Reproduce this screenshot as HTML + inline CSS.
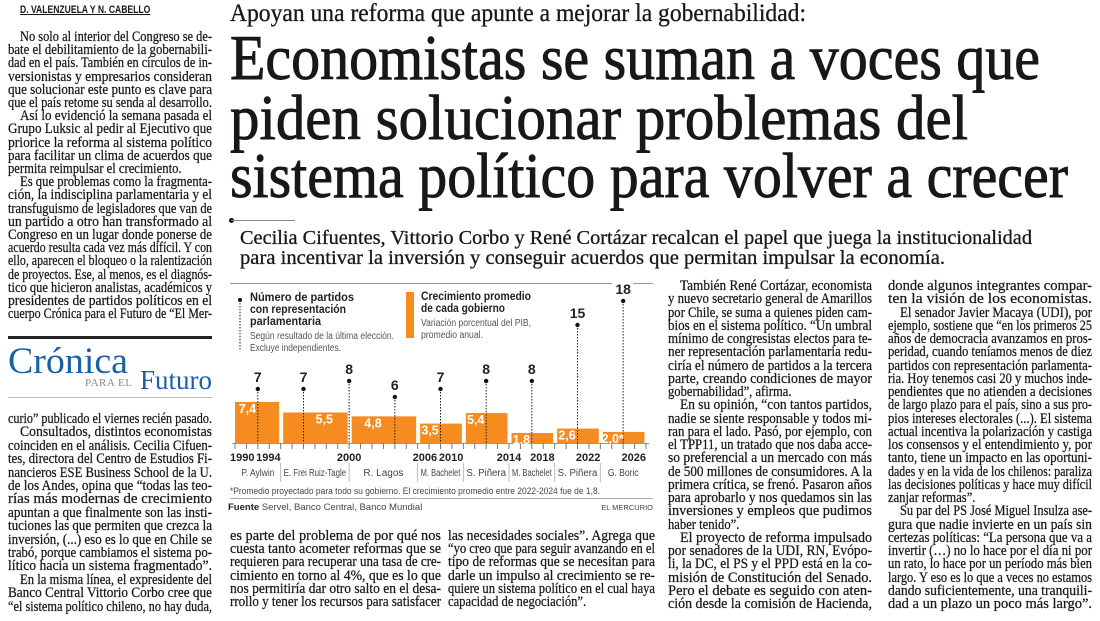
<!DOCTYPE html>
<html><head><meta charset="utf-8">
<style>
body{margin:0;width:1100px;height:621px;background:#fff;position:relative;overflow:hidden;color:#1a1718;font-family:"Liberation Serif",serif}
.abs{position:absolute;white-space:nowrap}
.col{position:absolute}
.ln{position:relative;white-space:nowrap;font-size:15px;overflow:visible;-webkit-text-stroke:0.25px #1a1718}
.ln span{display:inline-block;transform-origin:0 50%}
.ind{padding-left:12px}
.hl{position:absolute;left:230px;white-space:nowrap;font-size:64px;line-height:64px;transform-origin:0 0;-webkit-text-stroke:0.9px #1a1718}
.sans{font-family:"Liberation Sans",sans-serif}
svg text{font-family:"Liberation Sans",sans-serif}
</style></head><body>
<div class="abs sans" style="left:20px;top:4px;font-size:11px;font-weight:bold;text-decoration:underline;transform:scaleX(0.78);transform-origin:0 0">D. VALENZUELA Y N. CABELLO</div>

<div class="hl fit" data-w="576" style="font-size:25px;line-height:25px;top:1px;-webkit-text-stroke:0.3px #1a1718">Apoyan una reforma que apunte a mejorar la gobernabilidad:</div>
<div class="hl fit" data-w="810" style="top:26px">Economistas se suman a voces que</div>
<div class="hl fit" data-w="738" style="top:86px">piden solucionar problemas del</div>
<div class="hl fit" data-w="838" style="top:144px">sistema político para volver a crecer</div>
<div class="abs" style="left:229px;top:218px;width:5px;height:5px;border-radius:50%;background:#111"></div>
<div class="abs" style="left:231px;top:220px;width:64px;height:1px;background:#888"></div>
<div class="hl fit" data-w="792" style="left:240px;font-size:20px;line-height:20px;top:228px;-webkit-text-stroke:0.3px #1a1718">Cecilia Cifuentes, Vittorio Corbo y René Cortázar recalcan el papel que juega la institucionalidad</div>
<div class="hl fit" data-w="705" style="left:240px;font-size:20px;line-height:20px;top:248px;-webkit-text-stroke:0.3px #1a1718">para incentivar la inversión y conseguir acuerdos que permitan impulsar la economía.</div>

<!-- Cronica block -->
<div class="abs" style="left:8px;top:336px;width:204px;height:3px;background:#222"></div>
<div class="abs fit2" style="left:8px;top:343px;font-size:37px;line-height:37px;color:#1b5fa6">Crónica</div>
<div class="abs" style="left:85px;top:378px;font-size:11px;line-height:11px;color:#8a8a8a;letter-spacing:0.5px">PARA EL</div>
<div class="abs" style="left:140px;top:367px;font-size:27px;line-height:27px;color:#1b5fa6">Futuro</div>
<div class="abs" style="left:8px;top:397px;width:204px;height:1px;background:#bbb"></div>

<div class="col" style="left:8px;top:31px;width:204px;line-height:13.2px">
<div class="ln ind"><span>No solo al interior del Congreso se de-</span></div>
<div class="ln"><span>bate el debilitamiento de la gobernabili-</span></div>
<div class="ln"><span>dad en el país. También en círculos de in-</span></div>
<div class="ln"><span>versionistas y empresarios consideran</span></div>
<div class="ln"><span>que solucionar este punto es clave para</span></div>
<div class="ln"><span>que el país retome su senda al desarrollo.</span></div>
<div class="ln ind"><span>Así lo evidenció la semana pasada el</span></div>
<div class="ln"><span>Grupo Luksic al pedir al Ejecutivo que</span></div>
<div class="ln"><span>priorice la reforma al sistema político</span></div>
<div class="ln"><span>para facilitar un clima de acuerdos que</span></div>
<div class="ln last"><span>permita reimpulsar el crecimiento.</span></div>
<div class="ln ind"><span>Es que problemas como la fragmenta-</span></div>
<div class="ln"><span>ción, la indisciplina parlamentaria y el</span></div>
<div class="ln"><span>transfuguismo de legisladores que van de</span></div>
<div class="ln"><span>un partido a otro han transformado al</span></div>
<div class="ln"><span>Congreso en un lugar donde ponerse de</span></div>
<div class="ln"><span>acuerdo resulta cada vez más difícil. Y con</span></div>
<div class="ln"><span>ello, aparecen el bloqueo o la ralentización</span></div>
<div class="ln"><span>de proyectos. Ese, al menos, es el diagnós-</span></div>
<div class="ln"><span>tico que hicieron analistas, académicos y</span></div>
<div class="ln"><span>presidentes de partidos políticos en el</span></div>
<div class="ln"><span>cuerpo Crónica para el Futuro de “El Mer-</span></div>
</div>

<div class="col" style="left:8px;top:413px;width:204px;line-height:13.4px">
<div class="ln"><span>curio” publicado el viernes recién pasado.</span></div>
<div class="ln ind"><span>Consultados, distintos economistas</span></div>
<div class="ln"><span>coinciden en el análisis. Cecilia Cifuen-</span></div>
<div class="ln"><span>tes, directora del Centro de Estudios Fi-</span></div>
<div class="ln"><span>nancieros ESE Business School de la U.</span></div>
<div class="ln"><span>de los Andes, opina que “todas las teo-</span></div>
<div class="ln"><span>rías más modernas de crecimiento</span></div>
<div class="ln"><span>apuntan a que finalmente son las insti-</span></div>
<div class="ln"><span>tuciones las que permiten que crezca la</span></div>
<div class="ln"><span>inversión, (...) eso es lo que en Chile se</span></div>
<div class="ln"><span>trabó, porque cambiamos el sistema po-</span></div>
<div class="ln"><span>lítico hacia un sistema fragmentado”.</span></div>
<div class="ln ind"><span>En la misma línea, el expresidente del</span></div>
<div class="ln"><span>Banco Central Vittorio Corbo cree que</span></div>
<div class="ln"><span>“el sistema político chileno, no hay duda,</span></div>
</div>

<div class="col" style="left:230px;top:530px;width:211px;line-height:13.2px">
<div class="ln"><span>es parte del problema de por qué nos</span></div>
<div class="ln"><span>cuesta tanto acometer reformas que se</span></div>
<div class="ln"><span>requieren para recuperar una tasa de cre-</span></div>
<div class="ln"><span>cimiento en torno al 4%, que es lo que</span></div>
<div class="ln"><span>nos permitiría dar otro salto en el desa-</span></div>
<div class="ln"><span>rrollo y tener los recursos para satisfacer</span></div>
</div>
<div class="col" style="left:448px;top:530px;width:207px;line-height:13.2px">
<div class="ln"><span>las necesidades sociales”. Agrega que</span></div>
<div class="ln"><span>“yo creo que para seguir avanzando en el</span></div>
<div class="ln"><span>tipo de reformas que se necesitan para</span></div>
<div class="ln"><span>darle un impulso al crecimiento se re-</span></div>
<div class="ln"><span>quiere un sistema político en el cual haya</span></div>
<div class="ln last"><span>capacidad de negociación”.</span></div>
</div>

<div class="col" style="left:668px;top:280px;width:204px;line-height:13.25px">
<div class="ln ind"><span>También René Cortázar, economista</span></div>
<div class="ln"><span>y nuevo secretario general de Amarillos</span></div>
<div class="ln"><span>por Chile, se suma a quienes piden cam-</span></div>
<div class="ln"><span>bios en el sistema político. “Un umbral</span></div>
<div class="ln"><span>mínimo de congresistas electos para te-</span></div>
<div class="ln"><span>ner representación parlamentaria redu-</span></div>
<div class="ln"><span>ciría el número de partidos a la tercera</span></div>
<div class="ln"><span>parte, creando condiciones de mayor</span></div>
<div class="ln last"><span>gobernabilidad”, afirma.</span></div>
<div class="ln ind"><span>En su opinión, “con tantos partidos,</span></div>
<div class="ln"><span>nadie se siente responsable y todos mi-</span></div>
<div class="ln"><span>ran para el lado. Pasó, por ejemplo, con</span></div>
<div class="ln"><span>el TPP11, un tratado que nos daba acce-</span></div>
<div class="ln"><span>so preferencial a un mercado con más</span></div>
<div class="ln"><span>de 500 millones de consumidores. A la</span></div>
<div class="ln"><span>primera crítica, se frenó. Pasaron años</span></div>
<div class="ln"><span>para aprobarlo y nos quedamos sin las</span></div>
<div class="ln"><span>inversiones y empleos que pudimos</span></div>
<div class="ln last"><span>haber tenido”.</span></div>
<div class="ln ind"><span>El proyecto de reforma impulsado</span></div>
<div class="ln"><span>por senadores de la UDI, RN, Evópo-</span></div>
<div class="ln"><span>li, la DC, el PS y el PPD está en la co-</span></div>
<div class="ln"><span>misión de Constitución del Senado.</span></div>
<div class="ln"><span>Pero el debate es seguido con aten-</span></div>
<div class="ln"><span>ción desde la comisión de Hacienda,</span></div>
</div>

<div class="col" style="left:888px;top:280px;width:204px;line-height:13.25px">
<div class="ln"><span>donde algunos integrantes compar-</span></div>
<div class="ln"><span>ten la visión de los economistas.</span></div>
<div class="ln ind"><span>El senador Javier Macaya (UDI), por</span></div>
<div class="ln"><span>ejemplo, sostiene que “en los primeros 25</span></div>
<div class="ln"><span>años de democracia avanzamos en pros-</span></div>
<div class="ln"><span>peridad, cuando teníamos menos de diez</span></div>
<div class="ln"><span>partidos con representación parlamenta-</span></div>
<div class="ln"><span>ria. Hoy tenemos casi 20 y muchos inde-</span></div>
<div class="ln"><span>pendientes que no atienden a decisiones</span></div>
<div class="ln"><span>de largo plazo para el país, sino a sus pro-</span></div>
<div class="ln"><span>pios intereses electorales (...). El sistema</span></div>
<div class="ln"><span>actual incentiva la polarización y castiga</span></div>
<div class="ln"><span>los consensos y el entendimiento y, por</span></div>
<div class="ln"><span>tanto, tiene un impacto en las oportuni-</span></div>
<div class="ln"><span>dades y en la vida de los chilenos: paraliza</span></div>
<div class="ln"><span>las decisiones políticas y hace muy difícil</span></div>
<div class="ln last"><span>zanjar reformas”.</span></div>
<div class="ln ind"><span>Su par del PS José Miguel Insulza ase-</span></div>
<div class="ln"><span>gura que nadie invierte en un país sin</span></div>
<div class="ln"><span>certezas políticas: “La persona que va a</span></div>
<div class="ln"><span>invertir (…) no lo hace por el día ni por</span></div>
<div class="ln"><span>un rato, lo hace por un período más bien</span></div>
<div class="ln"><span>largo. Y eso es lo que a veces no estamos</span></div>
<div class="ln"><span>dando suficientemente, una tranquili-</span></div>
<div class="ln"><span>dad a un plazo un poco más largo”.</span></div>
</div>

<svg id="chart" width="1100" height="621" style="position:absolute;left:0;top:0" xmlns="http://www.w3.org/2000/svg">
<line x1="230" y1="283.5" x2="612" y2="283.5" stroke="#999" stroke-width="1"/>
<line x1="633" y1="283.5" x2="653" y2="283.5" stroke="#999" stroke-width="1"/>
<g>
<line x1="240" y1="300" x2="240" y2="351" stroke="#222" stroke-width="1" stroke-dasharray="1.5,1.5"/>
<circle cx="240" cy="300" r="2" fill="#111"/>
<text x="250" y="301" font-size="12" font-weight="bold" fill="#222" textLength="104" lengthAdjust="spacingAndGlyphs">Número de partidos</text>
<text x="250" y="313" font-size="12" font-weight="bold" fill="#222" textLength="96" lengthAdjust="spacingAndGlyphs">con representación</text>
<text x="250" y="325" font-size="12" font-weight="bold" fill="#222" textLength="71" lengthAdjust="spacingAndGlyphs">parlamentaria</text>
<text x="250" y="339" font-size="10" fill="#555" textLength="144" lengthAdjust="spacingAndGlyphs">Según resultado de la última elección.</text>
<text x="250" y="351" font-size="10" fill="#555" textLength="91" lengthAdjust="spacingAndGlyphs">Excluye independientes.</text>
</g>
<g>
<rect x="406" y="292" width="8" height="46" fill="#f68b1f"/>
<text x="421" y="300" font-size="12" font-weight="bold" fill="#222" textLength="110" lengthAdjust="spacingAndGlyphs">Crecimiento promedio</text>
<text x="421" y="312" font-size="12" font-weight="bold" fill="#222" textLength="84" lengthAdjust="spacingAndGlyphs">de cada gobierno</text>
<text x="421" y="326" font-size="10" fill="#555" textLength="110" lengthAdjust="spacingAndGlyphs">Variación porcentual del PIB,</text>
<text x="421" y="338" font-size="10" fill="#555" textLength="62" lengthAdjust="spacingAndGlyphs">promedio anual.</text>
</g>
<g id="plot"></g>
<text x="230" y="494" font-size="9.5" fill="#444" textLength="370" lengthAdjust="spacingAndGlyphs">*Promedio proyectado para todo su gobierno. El crecimiento promedio entre 2022-2024 fue de 1,8.</text>
<line x1="230" y1="498.5" x2="653" y2="498.5" stroke="#aaa"/>
<text x="228" y="510" font-size="9.5" fill="#444"><tspan font-weight="bold" fill="#222">Fuente</tspan> Servel, Banco Central, Banco Mundial</text>
<text x="653" y="510" font-size="7.5" fill="#444" text-anchor="end">EL MERCURIO</text>
</svg>

<script>
// ---- chart data ----
const termStart = [1990, 1994, 2000, 2006, 2010, 2014, 2018, 2022];
const termEnd = [1994, 2000, 2006, 2010, 2014, 2018, 2022, 2026];
const presidents = ["P. Aylwin", "E. Frei Ruiz-Tagle", "R. Lagos", "M. Bachelet", "S. Piñera", "M. Bachelet", "S. Piñera", "G. Boric"];
const growth = [7.4, 5.5, 4.8, 3.5, 5.4, 1.8, 2.6, 2.0];
const growthLabels = ["7,4", "5,5", "4,8", "3,5", "5,4", "1,8", "2,6", "2,0*"];
const electionYears = [1992, 1996, 2000, 2004, 2008, 2012, 2016, 2020, 2024];
const parties = [7, 7, 8, 6, 7, 8, 8, 15, 18];
const yearTicks = [1990, 1994, 2000, 2006, 2010, 2014, 2018, 2022, 2026];

const NS = "http://www.w3.org/2000/svg";
const X0 = 235, X1 = 646, Y0 = 1990, Y1 = 2026, BASE = 443;
const xs = y => X0 + (y - Y0) * (X1 - X0) / (Y1 - Y0);
const yg = v => BASE - v * 5.55;
const yp = n => 445 - n * 8;
const plot = document.getElementById("plot");
function mk(tag, attrs, parent) {
  const e = document.createElementNS(NS, tag);
  for (const k in attrs) e.setAttribute(k, attrs[k]);
  (parent || plot).appendChild(e);
  return e;
}
// bars
growth.forEach((v, i) => {
  const a = xs(termStart[i]) + (i ? 2.5 : 0), b = xs(termEnd[i]) - 1.5;
  const r = mk("rect", {x: a, y: yg(v), width: b - a, height: BASE - yg(v), fill: "#f68b1f"});
  
  
});
// year ticks
mk("line", {x1: X0 - 3, y1: BASE + 0.5, x2: X1 + 3, y2: BASE + 0.5, stroke: "#999"});
for (let y = Y0; y <= Y1; y++) {
  mk("line", {x1: xs(y), y1: BASE, x2: xs(y), y2: BASE + 6, stroke: "#777", "stroke-width": 1});
}
const anchors = ["start", "end", "middle", "start", "end", "middle", "end", "end", "end"];
yearTicks.forEach((y, i) => {
  const t = mk("text", {x: xs(y) + (anchors[i] === "start" ? -5 : 0), y: 461, "font-size": 11, "font-weight": "bold", fill: "#222", "text-anchor": anchors[i]});
  t.textContent = y;
  
  
});
// president row
presidents.forEach((p, i) => {
  const a = xs(termStart[i]), b = xs(termEnd[i]);
  const c = (a + b) / 2;
  const t = mk("text", {x: c, y: 476, "font-size": 10, fill: "#444", "text-anchor": "middle"});
  t.textContent = p;
  
  
  const maxW = (b - a) - 6;
  const w = t.getComputedTextLength();
  if (w > maxW) { t.setAttribute("textLength", maxW); t.setAttribute("lengthAdjust", "spacingAndGlyphs"); }
  else if (w > maxW * 0.75) { t.setAttribute("textLength", w * 0.85); t.setAttribute("lengthAdjust", "spacingAndGlyphs"); }
  if (i > 0) mk("line", {x1: a, y1: 463, x2: a, y2: 482, stroke: "#bbb"});
});
// party markers
electionYears.forEach((y, i) => {
  const x = xs(y), py = yp(parties[i]);
  mk("line", {x1: x, y1: py, x2: x, y2: BASE, stroke: "#222", "stroke-width": 1, "stroke-dasharray": "1.5,1.5"});
  const c = mk("circle", {cx: x, cy: py, r: 2.2, fill: "#111"});
  
  
  const t = mk("text", {x: x, y: py - 7, "font-size": 14, "font-weight": "bold", fill: "#222", "text-anchor": "middle"});
  t.textContent = parties[i];
  
  
});
// bar value labels (left of the dotted line unless the right side is much wider)
growth.forEach((v, i) => {
  const a = xs(termStart[i]), b = xs(termEnd[i]);
  const ey = electionYears.find(y => y > termStart[i] && y < termEnd[i]);
  const dx = xs(ey);
  const right = (b - dx) > 1.5 * (dx - a);
  const cx = right ? (dx + b) / 2 - 2 : (a + dx) / 2 + 1;
  const t = mk("text", {x: cx, y: yg(v) + 11, "font-size": 12.5, "font-weight": "bold", fill: "#fff", "text-anchor": "middle"});
  t.textContent = growthLabels[i];
  
  
});

// ---- text fitting ----
document.querySelectorAll(".hl.fit").forEach(el => {
  const w = el.getBoundingClientRect().width;
  const target = +el.dataset.w;
  el.style.transform = "scaleX(" + (target / w) + ")";
});
const cr = document.querySelector(".fit2");
cr.style.transform = "scaleX(" + (120 / cr.getBoundingClientRect().width) + ")";
cr.style.transformOrigin = "0 0";
document.querySelectorAll(".col").forEach(col => {
  const cw = col.clientWidth;
  col.querySelectorAll(".ln").forEach(ln => {
    const sp = ln.querySelector("span");
    const target = cw - (ln.classList.contains("ind") ? 12 : 0);
    const w = sp.getBoundingClientRect().width;
    let s = target / w;
    if (ln.classList.contains("last")) s = Math.min(s, 0.84);
    sp.style.transform = "scaleX(" + s + ")";
  });
});
</script>
</body></html>
